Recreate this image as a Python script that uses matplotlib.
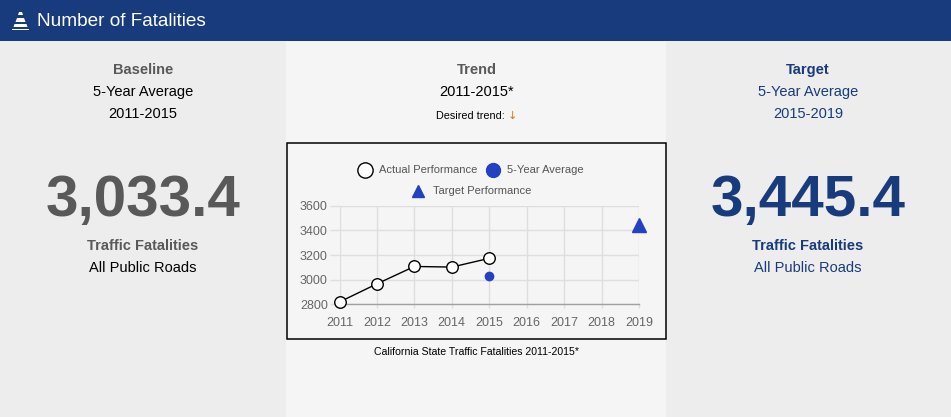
import matplotlib
matplotlib.use("Agg")
import matplotlib.pyplot as plt
from matplotlib.patches import Rectangle, Polygon
from matplotlib.lines import Line2D

plt.rcParams['font.family'] = ['Liberation Sans', 'DejaVu Sans']

# ---- data ----
years_actual = [2011, 2012, 2013, 2014, 2015]
actual_perf = [2819, 2966, 3107, 3102, 3173]
avg_year = [2015]
avg_value = [3033.4]
target_year = [2019]
target_value = [3445.4]
x_ticks = [2011, 2012, 2013, 2014, 2015, 2016, 2017, 2018, 2019]
y_ticks = [2800, 3000, 3200, 3400, 3600]
baseline_text = "3,033.4"
target_text = "3,445.4"

W, H = 951, 417
fig = plt.figure(figsize=(W / 100, H / 100), dpi=100)
fig.patch.set_facecolor('#f5f5f5')

def fx(px):
    return px / W

def fy(py):
    return 1 - py / H

def rect(x0, y0, x1, y1, **kw):
    fig.patches.append(Rectangle((fx(x0), fy(y1)), fx(x1) - fx(x0), fy(y0) - fy(y1),
                                 transform=fig.transFigure, **kw))

NAVY = '#173b7c'
GRAY = '#595959'
BLUE = '#2341c0'

# panels
rect(0, 41, 286, 417, facecolor='#ededed', edgecolor='none', zorder=-3)
rect(286, 41, 666, 417, facecolor='#f5f5f5', edgecolor='none', zorder=-3)
rect(666, 41, 951, 417, facecolor='#ededed', edgecolor='none', zorder=-3)
# header
rect(0, 0, 951, 41, facecolor=NAVY, edgecolor='none', zorder=-2)
# chart box
rect(287, 143, 666, 339, facecolor='#f5f5f5', edgecolor='black', linewidth=1.1, zorder=-1)

# cone icon
def poly(pts):
    fig.patches.append(Polygon([(fx(a), fy(b)) for a, b in pts], closed=True,
                               transform=fig.transFigure, facecolor='white',
                               edgecolor='none', zorder=2))
poly([(19, 12), (22, 12), (23, 15), (18, 15)])
poly([(17, 18), (24, 18), (25.5, 22), (15.5, 22)])
poly([(14.5, 24), (26.5, 24), (27.5, 27), (13.5, 27)])
poly([(12, 28.5), (29, 28.5), (29, 30), (12, 30)])

fig.text(fx(37), fy(21), "Number of Fatalities", color='white', fontsize=13.7,
         ha='left', va='center', zorder=3)

# left panel texts
cxL, cxM, cxR = 143, 477, 808
fig.text(fx(cxL), fy(70), "Baseline", color=GRAY, fontsize=10.5, fontweight='bold', ha='center', va='center')
fig.text(fx(cxL), fy(92), "5-Year Average", color='black', fontsize=10.5, ha='center', va='center')
fig.text(fx(cxL), fy(114), "2011-2015", color='black', fontsize=10.5, ha='center', va='center')
fig.text(fx(cxL), fy(201), baseline_text, color=GRAY, fontsize=42, fontweight='bold', ha='center', va='center')
fig.text(fx(cxL), fy(246), "Traffic Fatalities", color=GRAY, fontsize=10.5, fontweight='bold', ha='center', va='center')
fig.text(fx(cxL), fy(268), "All Public Roads", color='black', fontsize=10.5, ha='center', va='center')

# middle panel texts
fig.text(fx(cxM), fy(70), "Trend", color=GRAY, fontsize=10.5, fontweight='bold', ha='center', va='center')
fig.text(fx(cxM), fy(92), "2011-2015*", color='black', fontsize=10.5, ha='center', va='center')
fig.text(fx(cxM - 5), fy(116), "Desired trend: ", color='black', fontsize=7.8, ha='center', va='center')
fig.text(fx(cxM + 31), fy(116), "↓", color='#d9750f', fontsize=8, ha='left', va='center',
         family=['DejaVu Sans'])
fig.text(fx(cxM - 1), fy(352), "California State Traffic Fatalities 2011-2015*", color='black',
         fontsize=7.6, ha='center', va='center')

# right panel texts
fig.text(fx(cxR), fy(70), "Target", color=NAVY, fontsize=10.5, fontweight='bold', ha='center', va='center')
fig.text(fx(cxR), fy(92), "5-Year Average", color=NAVY, fontsize=10.5, ha='center', va='center')
fig.text(fx(cxR), fy(114), "2015-2019", color=NAVY, fontsize=10.5, ha='center', va='center')
fig.text(fx(cxR), fy(201), target_text, color=NAVY, fontsize=42, fontweight='bold', ha='center', va='center')
fig.text(fx(cxR), fy(246), "Traffic Fatalities", color=NAVY, fontsize=10.5, fontweight='bold', ha='center', va='center')
fig.text(fx(cxR), fy(268), "All Public Roads", color=NAVY, fontsize=10.5, ha='center', va='center')

# ---- chart axes ----
ax_l, ax_r, ax_t, ax_b = 339.5, 639, 205.7, 304.3
ax = fig.add_axes([fx(ax_l), fy(ax_b), fx(ax_r) - fx(ax_l), fy(ax_t) - fy(ax_b)])
ax.set_zorder(5)
ax.set_facecolor('none')
ax.set_xlim(2011, 2019)
ax.set_ylim(2800, 3600)
ax.set_xticks(x_ticks)
ax.set_yticks(y_ticks)
ax.grid(True, color='#dedede', linewidth=1)
ax.set_axisbelow(True)
for s in ['top', 'right', 'left']:
    ax.spines[s].set_visible(False)
ax.spines['bottom'].set_color('#a0a0a0')
ax.spines['bottom'].set_linewidth(1)
ax.tick_params(axis='both', colors='#dedede', labelcolor='#666666', labelsize=9, width=1)
ax.tick_params(axis='y', length=7, pad=1.5)
ax.tick_params(axis='x', length=3, pad=6)

ax.plot(years_actual, actual_perf, color='black', linewidth=1, marker='o', markersize=8.3,
        markerfacecolor='white', markeredgecolor='black', markeredgewidth=1, clip_on=False, zorder=3)
ax.plot(avg_year, avg_value, linestyle='none', marker='o', markersize=6, color=BLUE,
        clip_on=False, zorder=4)
ax.plot(target_year, target_value, linestyle='none', marker='^', markersize=9.5, color=BLUE,
        clip_on=False, zorder=4)

# legend (manual, two rows centered)
def leg_marker(px, py, **kw):
    fig.add_artist(Line2D([fx(px)], [fy(py)], transform=fig.transFigure, linestyle='none', zorder=6, **kw))

leg_marker(365, 170, marker='o', markersize=11, markerfacecolor='white', markeredgecolor='black', markeredgewidth=1)
fig.text(fx(379), fy(170), "Actual Performance", color='#555555', fontsize=8, ha='left', va='center')
leg_marker(492.5, 170, marker='o', markersize=10, color=BLUE)
fig.text(fx(507), fy(170), "5-Year Average", color='#555555', fontsize=8, ha='left', va='center')
leg_marker(418, 190.5, marker='^', markersize=8, color=BLUE)
fig.text(fx(433), fy(190.5), "Target Performance", color='#555555', fontsize=8, ha='left', va='center')

fig.savefig("out.png", dpi=100, facecolor=fig.get_facecolor())
